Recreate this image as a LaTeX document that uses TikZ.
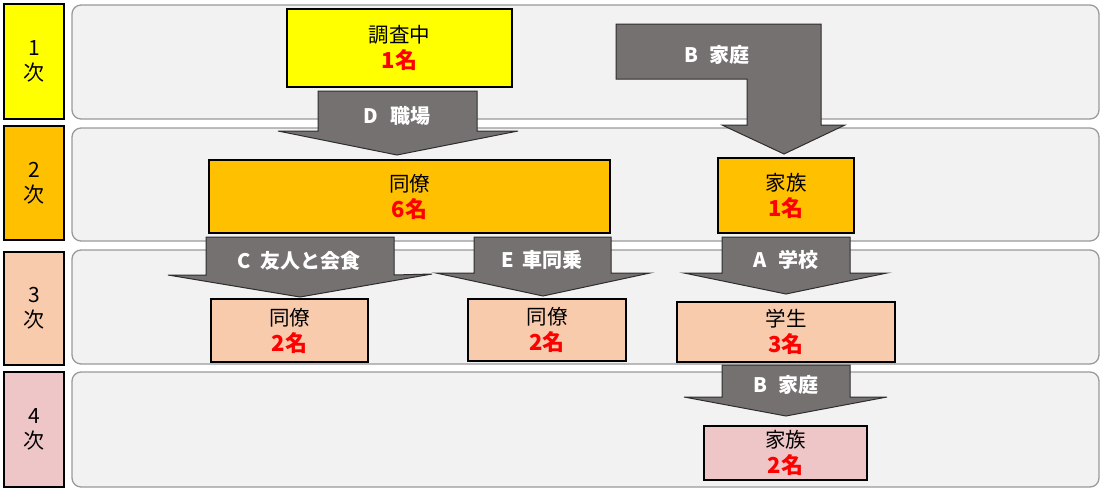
\documentclass[tikz,border=0pt]{standalone}
\usepackage{fontspec}
\setmainfont{Noto Sans CJK JP}
\definecolor{bandfill}{HTML}{F2F2F2}
\definecolor{bandline}{HTML}{9A9A9A}
\definecolor{yel}{HTML}{FFFF00}
\definecolor{org}{HTML}{FFC000}
\definecolor{pch}{HTML}{F8CBAD}
\definecolor{pnk}{HTML}{EFC6C8}
\definecolor{arr}{HTML}{767171}
\definecolor{arrline}{HTML}{2E2E2E}
\definecolor{rd}{HTML}{FF0000}
\newcommand{\rednum}[1]{{\bfseries\fontsize{22}{26}\selectfont\color{rd}#1}}
\begin{document}
\begin{tikzpicture}[x=1pt,y=-1pt,
  band/.style={fill=bandfill,draw=bandline,line width=1.3pt,rounded corners=9pt},
  lvl/.style={draw=black,line width=1.4pt,inner sep=0pt,align=center,font=\fontsize{21}{25}\selectfont},
  box/.style={draw=black,line width=1.3pt,inner sep=0pt,align=center,font=\fontsize{20.5}{26}\selectfont},
  blk/.style={fill=arr,draw=arrline,line width=1pt,line join=miter},
  alab/.style={text=white,font=\bfseries\fontsize{20}{22}\selectfont,inner sep=0pt}]
\useasboundingbox (0,0) rectangle (1114,498);
% bands
\draw[band] (72,5) rectangle (1099,119);
\draw[band] (72,128) rectangle (1099,241);
\draw[band] (72,250) rectangle (1099,364);
\draw[band] (72,372) rectangle (1099,487);
% level labels
\node[lvl,fill=yel,minimum width=60pt,minimum height=115pt] (l1) at (34,61.5) {1\\次};
\node[lvl,fill=org,minimum width=60pt,minimum height=114pt] (l2) at (34,183) {2\\次};
\node[lvl,fill=pch,minimum width=60pt,minimum height=113pt] (l3) at (34,308.5) {3\\次};
\node[lvl,fill=pnk,minimum width=60pt,minimum height=115pt] (l4) at (34,429.5) {4\\次};
% block arrows
\draw[blk] (318,91) -- (477,91) -- (477,131) -- (518,131) -- (397,155) -- (278,131) -- (318,131) -- cycle;
\node[alab] (lD) at (397,116) {D\hspace{0.6em}職場};
\draw[blk] (616,24) -- (821,24) -- (821,125) -- (845,125) -- (784,154) -- (722,125) -- (747,125) -- (747,79) -- (616,79) -- cycle;
\node[alab] (lB1) at (717,55) {B\hspace{0.6em}家庭};
\draw[blk] (206,237) -- (394,237) -- (394,275) -- (432,274) -- (300,297) -- (168,275) -- (206,275) -- cycle;
\node[alab] (lC) at (299,261) {C\hspace{0.45em}友人と会食};
\draw[blk] (474,237) -- (611,237) -- (611,273) -- (650,273) -- (543,296) -- (436,273) -- (474,273) -- cycle;
\node[alab] (lE) at (542,260) {E\hspace{0.45em}車同乗};
\draw[blk] (722,237) -- (850,237) -- (850,273) -- (887,273) -- (786,294) -- (684,273) -- (722,273) -- cycle;
\node[alab] (lA) at (786,260) {A\hspace{0.6em}学校};
\draw[blk] (722,365) -- (850,365) -- (850,397) -- (887,397) -- (786,416) -- (684,397) -- (722,397) -- cycle;
\node[alab] (lB2) at (786,385) {B\hspace{0.6em}家庭};
% boxes
\node[box,fill=yel,minimum width=225pt,minimum height=78pt] (n1) at (399.5,48) {調査中\\\rednum{1名}};
\node[box,fill=org,minimum width=401pt,minimum height=73pt] (n2) at (409.5,196.5) {同僚\\\rednum{6名}};
\node[box,fill=org,minimum width=136pt,minimum height=75pt] (n3) at (786,195.5) {家族\\\rednum{1名}};
\node[box,fill=pch,minimum width=157pt,minimum height=63pt] (n4) at (289.5,330.5) {同僚\\\rednum{2名}};
\node[box,fill=pch,minimum width=158pt,minimum height=62pt] (n5) at (547,330) {同僚\\\rednum{2名}};
\node[box,fill=pch,minimum width=218pt,minimum height=60pt] (n6) at (786,332) {学生\\\rednum{3名}};
\node[box,fill=pnk,minimum width=163pt,minimum height=54pt] (n7) at (785.5,453) {家族\\\rednum{2名}};
\end{tikzpicture}
\end{document}
